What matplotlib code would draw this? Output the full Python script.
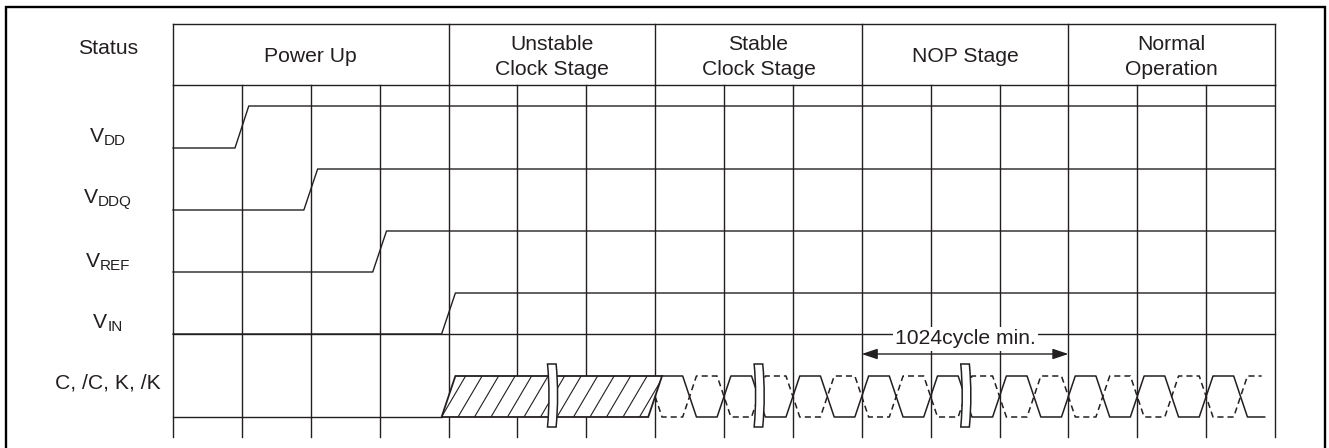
import numpy as np
import matplotlib.pyplot as plt
from matplotlib.patches import Polygon, PathPatch
from matplotlib.path import Path

plt.rcParams['font.family'] = ['Liberation Sans', 'DejaVu Sans']

# stages in the header and how many grid columns each one covers
stages = ['Power Up', 'Unstable\nClock Stage', 'Stable\nClock Stage', 'NOP Stage', 'Normal\nOperation']
stage_cols = [4, 3, 3, 3, 3]

# supply / input signals (subscripts of V) and the grid line where each ramps up
signal_subs = ['DD', 'DDQ', 'REF', 'IN']
rise_cols = [1, 2, 3, 4]
clock_label = 'C, /C, K, /K'

# clock: unstable (hatched) from col 4 to 7, then stable clock edges
unstable_cols = (4, 7)
clock_rise_cols = [8, 9, 10, 11, 12, 13, 14, 15]
clock_fall_cols = [7.5, 8.5, 9.5, 10.5, 11.5, 12.5, 13.5, 14.5, 15.5]
clock_end_col = 15.85
break_cols = [5.5, 8.5, 11.5]
nop_cols = (10, 13)
nop_text = '1024cycle min.'

# ---- layout (pixels) ----
W, H = 1329, 448
X0, X1 = 173, 1275
Y_TOP, Y_HEAD, Y_BOT = 24, 85, 437
high_y = [106, 169, 231, 293]
low_y = [148, 210, 272, 334]
label_base = [142, 203, 267, 328]
CLK_HI, CLK_LO = 376, 417
LABEL_X = 108
E = 0.1  # half width of an edge, in columns
LC = '#231f20'
LW = 1.0
FS = 15.2

ncols = sum(stage_cols)
CW = (X1 - X0) / ncols


def cx(c):
    return X0 + CW * np.asarray(c, dtype=float)


fig = plt.figure(figsize=(W / 100, H / 100), dpi=100)
ax = fig.add_axes([0, 0, 1, 1])
ax.set_xlim(0, W)
ax.set_ylim(H, 0)
ax.axis('off')
rend = fig.canvas.get_renderer()

# outer frame (open at the bottom)
ax.plot([6, 6, 1325, 1325], [H + 10, 7, 7, H + 10], color='black', lw=1.7,
        solid_joinstyle='miter', clip_on=False)

# header
ax.plot([X0, X1], [Y_TOP, Y_TOP], color=LC, lw=LW)
ax.plot([X0, X1], [Y_HEAD, Y_HEAD], color=LC, lw=LW)
bounds = np.concatenate([[0], np.cumsum(stage_cols)])
for b in bounds:
    ax.plot([cx(b), cx(b)], [Y_TOP, Y_HEAD], color=LC, lw=LW)
for name, a, b in zip(stages, bounds[:-1], bounds[1:]):
    ax.text(cx((a + b) / 2), 57, name, ha='center', va='center', fontsize=FS,
            linespacing=1.36, color=LC)
ax.text(LABEL_X, 48, 'Status', ha='center', va='center', fontsize=FS, color=LC)

# body grid
for i in range(ncols + 1):
    ax.plot([cx(i), cx(i)], [Y_HEAD, Y_BOT], color=LC, lw=LW)
ax.plot([X0, X1], [low_y[-1], low_y[-1]], color=LC, lw=LW)

# supply signals
for sub, rc, hy, ly, yb in zip(signal_subs, rise_cols, high_y, low_y, label_base):
    ax.plot([X0, cx(rc - E), cx(rc + E), X1], [ly, ly, hy, hy], color=LC, lw=LW)
    t1 = ax.text(0, yb, 'V', ha='left', va='baseline', fontsize=FS, color=LC)
    t2 = ax.text(0, yb + 3, sub, ha='left', va='baseline', fontsize=FS * 0.72, color=LC)
    w1 = t1.get_window_extent(rend).width
    w2 = t2.get_window_extent(rend).width
    left = LABEL_X - (w1 + w2) / 2
    t1.set_x(left)
    t2.set_x(left + w1)
ax.text(LABEL_X, 383, clock_label, ha='center', va='center', fontsize=FS, color=LC)

# clock: low before the unstable stage
u0, u1 = unstable_cols
ax.plot([X0, cx(u0 - E)], [CLK_LO, CLK_LO], color=LC, lw=LW)

# unstable clock: hatched parallelogram
poly = Polygon([(cx(u0 - E), CLK_LO), (cx(u0 + E), CLK_HI),
                (cx(u1 + E), CLK_HI), (cx(u1 - E), CLK_LO)],
               closed=True, facecolor='white', edgecolor=LC, lw=1.3, zorder=3)
ax.add_patch(poly)
dy = CLK_LO - CLK_HI
for xs in np.arange(cx(u0) - 40, cx(u1) + 20, 16.5):
    ln, = ax.plot([xs, xs + dy / 1.7], [CLK_LO, CLK_HI], color=LC, lw=0.8, zorder=3)
    ln.set_clip_path(poly)

# stable clock, solid and complement (dashed)
sx, sy = [cx(u1 + E)], [CLK_HI]
dx_, dy_ = [cx(u1), cx(u1 + E)], [(CLK_HI + CLK_LO) / 2, CLK_LO]
edges = sorted([(c, 'f') for c in clock_fall_cols] + [(c, 'r') for c in clock_rise_cols])
for c, kind in edges:
    a, b = (CLK_HI, CLK_LO) if kind == 'f' else (CLK_LO, CLK_HI)
    sx += [cx(c - E), cx(c + E)]; sy += [a, b]
    dx_ += [cx(c - E), cx(c + E)]; dy_ += [b, a]
sx.append(cx(clock_end_col)); sy.append(sy[-1])
dx_.append(cx(clock_end_col) - 3); dy_.append(dy_[-1])
ax.plot(sx, sy, color=LC, lw=1.1, zorder=3)
ax.plot(dx_, dy_, color=LC, lw=1.1, ls=(0, (4.0, 2.6)), zorder=3)

# break marks
for bc in break_cols:
    xc = float(cx(bc))
    top, bot, w, bulge = 364, 427, 4.3, 1.5
    mid = (top + bot) / 2
    verts = [(xc - w, top), (xc - w + 2 * bulge, mid), (xc - w, bot),
             (xc + w, bot), (xc + w + 2 * bulge, mid), (xc + w, top), (xc - w, top)]
    codes = [Path.MOVETO, Path.CURVE3, Path.CURVE3, Path.LINETO,
             Path.CURVE3, Path.CURVE3, Path.CLOSEPOLY]
    ax.add_patch(PathPatch(Path(verts, codes), facecolor='white', edgecolor=LC,
                           lw=1.1, zorder=4))

# NOP duration
n0, n1 = nop_cols
ax.annotate('', xy=(cx(n0), 354), xytext=(cx(n1), 354),
            arrowprops=dict(arrowstyle='<|-|>,head_length=0.95,head_width=0.32',
                            mutation_scale=10, color=LC, lw=1.0,
                            shrinkA=0, shrinkB=0), zorder=5)
ax.text(cx((n0 + n1) / 2), 339, nop_text, ha='center', va='center', fontsize=FS,
        color=LC, zorder=6,
        bbox=dict(facecolor='white', edgecolor='none', pad=1.5))

fig.savefig('out.png', dpi=100)
